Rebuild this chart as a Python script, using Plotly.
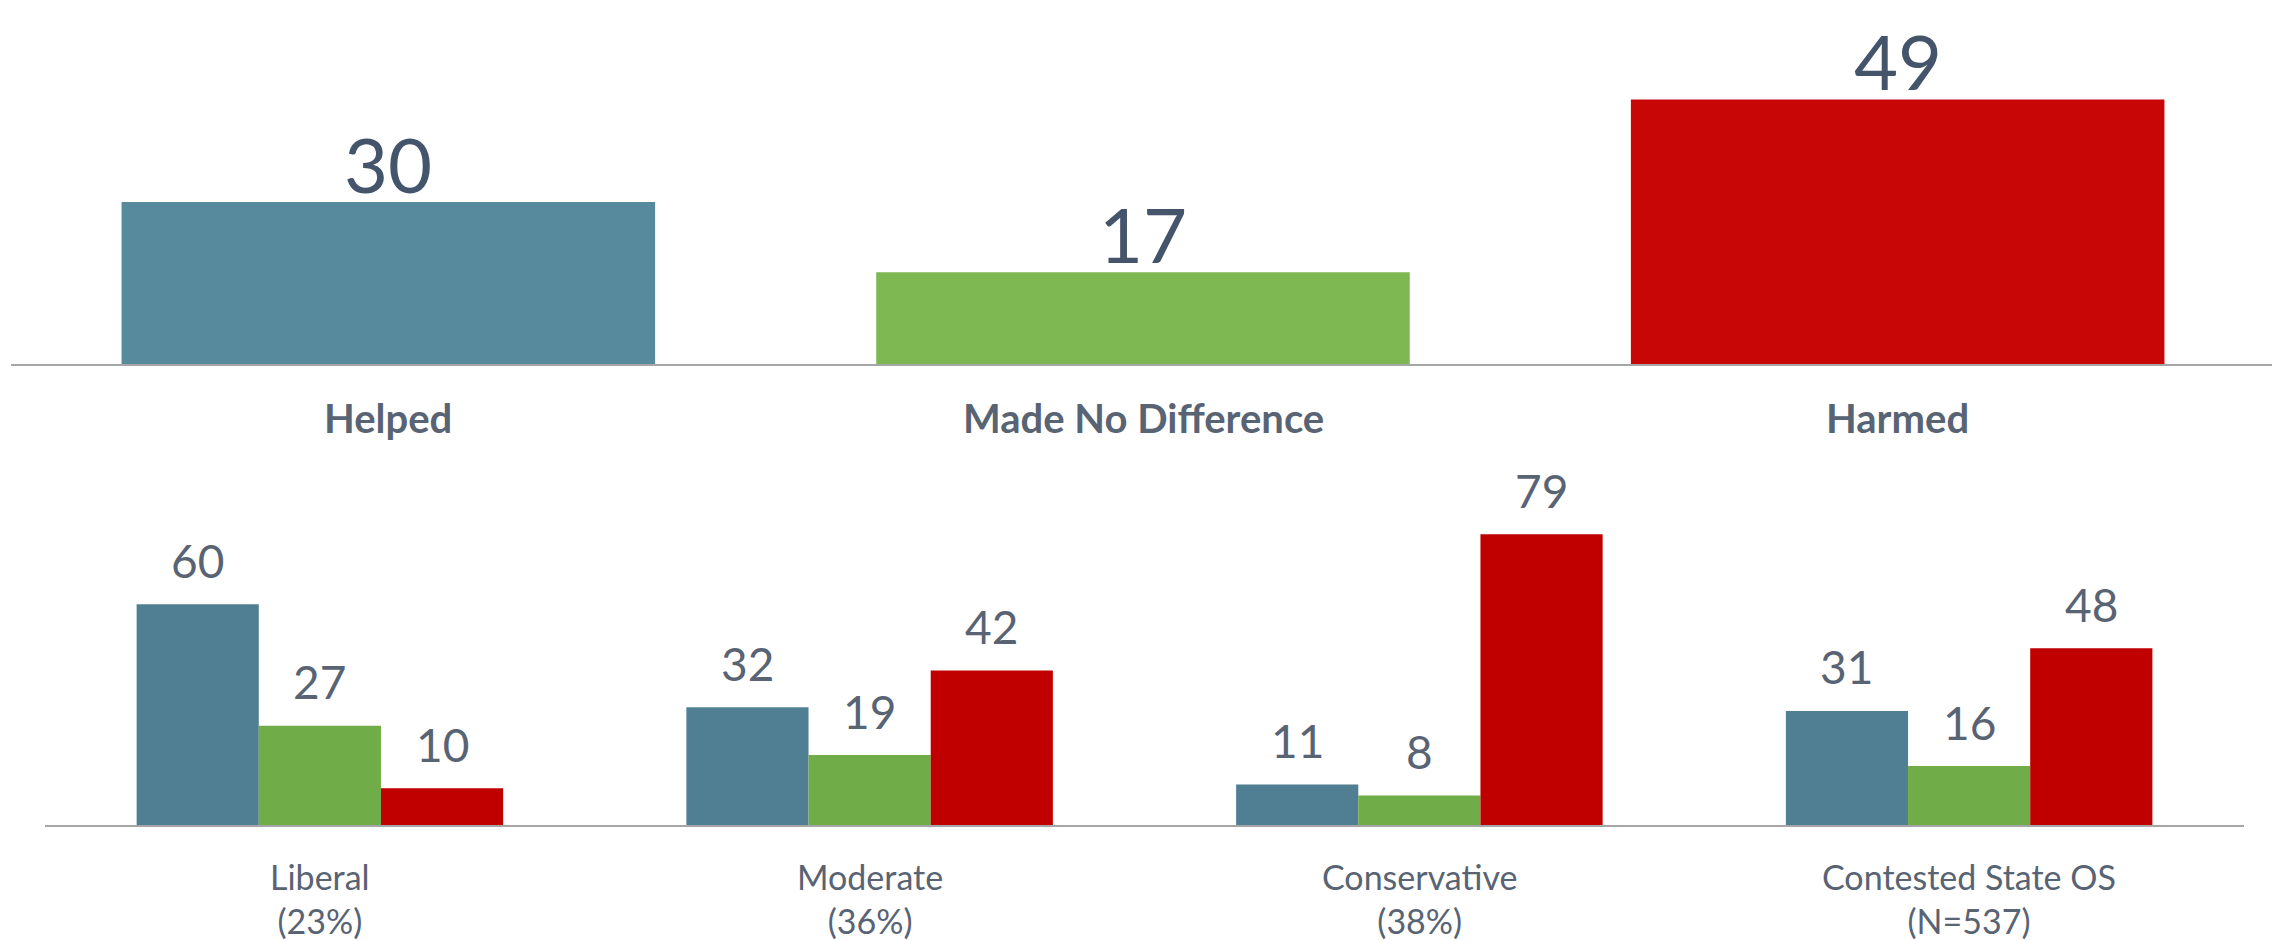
import plotly.graph_objects as go

# page body has an 8px margin; figure fills the rest of the 2280x941 window
OFF = 8
W, H = 2280 - OFF, 941 - OFF

# ---- data ----
top_categories = ["Helped", "Made No Difference", "Harmed"]
top_values = [30, 17, 49]
top_colors = ["#588A9E", "#7DB852", "#C80606"]

groups = ["Liberal<br>(23%)", "Moderate<br>(36%)", "Conservative<br>(38%)", "Contested State OS<br>(N=537)"]
group_keys = ["Liberal", "Moderate", "Conservative", "Contested"]
series_names = ["Helped", "Made No Difference", "Harmed"]
helped = [60, 32, 11, 31]
no_diff = [27, 19, 8, 16]
harmed = [10, 42, 79, 48]
bottom_colors = ["#507F93", "#70AC48", "#C00000"]

FONT = "Lato"
VAL_COLOR = "#44546A"
TXT_COLOR = "#586374"


def px(v):
    return v - OFF


fig = go.Figure()

# top chart
fig.add_trace(go.Bar(
    x=top_categories, y=top_values, marker=dict(color=top_colors, line=dict(width=0)),
    xaxis="x", yaxis="y", showlegend=False, hoverinfo="skip",
))

# bottom chart
bw = 2 / 9
for k, (name, vals, col) in enumerate(zip(series_names, [helped, no_diff, harmed], bottom_colors)):
    fig.add_trace(go.Bar(
        x=group_keys, y=vals, name=name, marker=dict(color=col, line=dict(width=0)),
        width=bw, offset=-1 / 3 + k * bw,
        xaxis="x2", yaxis="y2", showlegend=False, hoverinfo="skip",
    ))

annotations = []
# top value labels and category labels
for c, v in zip(top_categories, top_values):
    annotations.append(dict(x=c, y=v, xref="x", yref="y", text=str(v), showarrow=False,
                            yanchor="middle", yshift=39,
                            font=dict(family=FONT, size=76, color=VAL_COLOR)))
    annotations.append(dict(x=c, y=0, xref="x", yref="y", text="<b>%s</b>" % c, showarrow=False,
                            yanchor="middle", yshift=-54,
                            font=dict(family=FONT, size=40, color=TXT_COLOR)))

# bottom value labels
for i, vals in enumerate([helped, no_diff, harmed]):
    for j, v in enumerate(vals):
        annotations.append(dict(x=j + (i - 1) * bw, y=v, xref="x2", yref="y2", text=str(v),
                                showarrow=False, yanchor="middle", yshift=44,
                                font=dict(family=FONT, size=46, color=TXT_COLOR)))
for j, g in enumerate(groups):
    annotations.append(dict(x=j, y=0, xref="x2", yref="y2", text=g, showarrow=False,
                            yanchor="middle", yshift=-73,
                            font=dict(family=FONT, size=34, color=TXT_COLOR)))

top_base = px(364)
top_ppu = 5.4
bot_base = px(825)
bot_top = px(470)
bot_ppu = 3.68

fig.update_layout(
    width=W, height=H,
    margin=dict(l=0, r=0, t=0, b=0),
    paper_bgcolor="white", plot_bgcolor="white",
    bargap=0.293,
    annotations=annotations,
    xaxis=dict(domain=[px(11) / W, px(2275) / W], anchor="y", showline=True, linecolor="#A6A6A6", linewidth=2,
               showticklabels=False, ticks="", showgrid=False, zeroline=False),
    yaxis=dict(domain=[1 - top_base / H, 1], range=[0, top_base / top_ppu], anchor="x",
               visible=False, showgrid=False, zeroline=False),
    xaxis2=dict(domain=[px(45) / W, px(2244) / W], anchor="y2", showline=True, linecolor="#A6A6A6", linewidth=2,
                showticklabels=False, ticks="", showgrid=False, zeroline=False,
                range=[-0.5, 3.5]),
    yaxis2=dict(domain=[1 - bot_base / H, 1 - bot_top / H], range=[0, (bot_base - bot_top) / bot_ppu],
                anchor="x2", visible=False, showgrid=False, zeroline=False),
)

fig.write_html("out.html")
